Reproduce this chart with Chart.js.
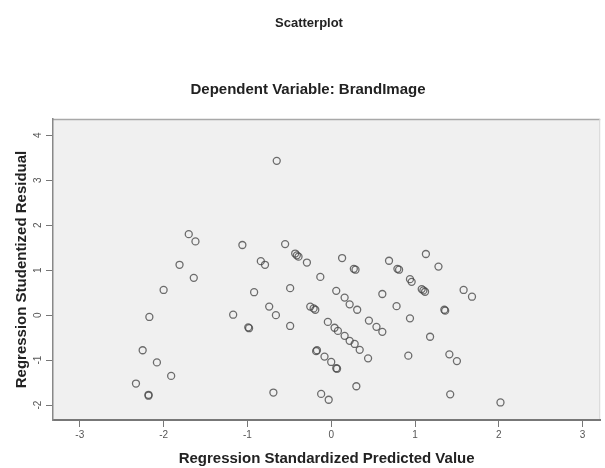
<!DOCTYPE html>
<html>
<head>
<meta charset="utf-8">
<script src="https://cdn.jsdelivr.net/npm/chart.js@4/dist/chart.umd.min.js"></script>
<style>
  html, body { margin: 0; padding: 0; background: #ffffff; }
  #wrap { width: 605px; height: 468px; position: relative; }
</style>
</head>
<body>
<div id="wrap"><canvas id="c" width="605" height="468"></canvas></div>
<script>
const chartTitle = "Scatterplot";
const chartSubtitle = "Dependent Variable: BrandImage";
const xAxisTitle = "Regression Standardized Predicted Value";
const yAxisTitle = "Regression Studentized Residual";

const xTicks = [-3, -2, -1, 0, 1, 2, 3];
const yTicks = [-2, -1, 0, 1, 2, 3, 4];

// Regression Standardized Predicted Value
const predicted = [
  -1.70, -1.62, -1.81, -1.64, -2.00, -2.17, -2.25, -2.08, -1.91, -2.33, -2.18, -2.18,
  -1.06, -0.84, -0.79, -0.92, -0.74, -0.66, -1.17, -0.99, -0.98, -0.69,
  -0.65,
  -0.55, -0.43, -0.41, -0.39, -0.29, -0.13, -0.49, -0.49,
  -0.25, -0.19, -0.21,
  0.13, 0.29, 0.27,
  0.06, 0.16, 0.22, 0.31,
  0.61, 0.78, 0.94,
  0.45, 0.54, 0.61,
  -0.04, 0.04, 0.08, 0.16, 0.22, 0.28, 0.34, 0.44,
  -0.17, -0.18, -0.08, 0.00, 0.06, 0.07,
  0.30, -0.12, -0.03,
  0.69, 0.81, 0.79, 0.94, 0.96, 1.08, 1.10, 1.12, 1.13, 1.28, 1.58, 1.68,
  1.35, 1.36, 1.18, 0.92, 1.41, 1.50, 1.42, 2.02
];
// Regression Studentized Residual
const residual = [
  1.80, 1.64, 1.12, 0.83, 0.56, -0.04, -0.78, -1.05, -1.35, -1.52, -1.77, -1.79,
  1.56, 1.20, 1.12, 0.51, 0.19, 0.00, 0.01, -0.27, -0.29, -1.72,
  3.43,
  1.58, 1.37, 1.33, 1.30, 1.17, 0.85, 0.60, -0.24,
  0.19, 0.12, 0.15,
  1.27, 1.01, 1.03,
  0.54, 0.39, 0.24, 0.12,
  0.47, 0.20, -0.07,
  -0.12, -0.26, -0.37,
  -0.15, -0.28, -0.35, -0.46, -0.57, -0.64, -0.77, -0.96,
  -0.78, -0.80, -0.92, -1.04, -1.18, -1.19,
  -1.58, -1.75, -1.88,
  1.21, 1.01, 1.03, 0.80, 0.74, 0.58, 0.55, 0.52, 1.36, 1.08, 0.56, 0.41,
  0.12, 0.10, -0.48, -0.90, -0.87, -1.02, -1.76, -1.94
];

const points = predicted.map((x, i) => ({ x: x, y: residual[i] }));

const FONT = "'Liberation Sans', Arial, sans-serif";

const framePlugin = {
  id: 'frame',
  beforeDraw(chart) {
    const { ctx, chartArea: a } = chart;
    ctx.save();
    ctx.fillStyle = '#f0f0f0';
    ctx.fillRect(a.left, a.top, a.right - a.left, a.bottom - a.top);
    ctx.strokeStyle = '#a8a8a8';
    ctx.lineWidth = 1.5;
    ctx.beginPath();
    ctx.moveTo(a.left, a.top + 0.5);
    ctx.lineTo(a.right, a.top + 0.5);
    ctx.stroke();
    ctx.strokeStyle = '#d8d8d8';
    ctx.lineWidth = 1;
    ctx.beginPath();
    ctx.moveTo(a.right - 0.5, a.top);
    ctx.lineTo(a.right - 0.5, a.bottom);
    ctx.stroke();
    ctx.restore();
  },
  afterDraw(chart) {
    const { ctx } = chart;
    ctx.save();
    ctx.fillStyle = '#222';
    ctx.textAlign = 'center';
    ctx.textBaseline = 'middle';
    ctx.font = "bold 13px " + FONT;
    ctx.fillText(chartTitle, 309, 23);
    ctx.font = "bold 15px " + FONT;
    ctx.fillText(chartSubtitle, 308, 90);
    ctx.restore();
  }
};

new Chart(document.getElementById('c'), {
  type: 'scatter',
  data: {
    datasets: [{
      data: points,
      pointStyle: 'circle',
      pointRadius: 3.5,
      pointHoverRadius: 3.5,
      borderWidth: 1.3,
      pointBorderColor: 'rgba(70,70,70,0.78)',
      pointBackgroundColor: 'rgba(0,0,0,0)'
    }]
  },
  options: {
    responsive: false,
    animation: false,
    devicePixelRatio: 1,
    layout: { padding: { top: 119, right: 1, left: 0, bottom: 0 } },
    plugins: {
      legend: { display: false },
      tooltip: { enabled: false },
      title: { display: false }
    },
    scales: {
      x: {
        type: 'linear',
        min: -3.32,
        max: 3.21,
        afterBuildTicks(s) { s.ticks = xTicks.map(v => ({ value: v })); },
        afterFit(s) { s.height = 48; s.paddingLeft = 0; s.paddingRight = 0; },
        ticks: {
          font: { size: 10, family: FONT },
          color: '#555',
          padding: 2,
          maxRotation: 0,
          callback: v => String(v)
        },
        grid: { drawOnChartArea: false, drawTicks: true, tickLength: 7, color: '#777', tickWidth: 1 },
        border: { display: true, color: '#777', width: 2 },
        title: {
          display: true,
          text: xAxisTitle,
          font: { size: 15, weight: 'bold', family: FONT },
          color: '#222',
          padding: { top: 0, bottom: 0 }
        }
      },
      y: {
        type: 'linear',
        min: -2.33,
        max: 4.36,
        afterBuildTicks(s) { s.ticks = yTicks.map(v => ({ value: v })); },
        afterFit(s) { s.width = 53; s.paddingTop = 0; s.paddingBottom = 0; },
        ticks: {
          font: { size: 10, family: FONT },
          color: '#555',
          padding: 3,
          minRotation: 90,
          maxRotation: 90,
          crossAlign: 'center',
          callback: v => String(v)
        },
        grid: { drawOnChartArea: false, drawTicks: true, tickLength: 7, color: '#777', tickWidth: 1 },
        border: { display: true, color: '#888', width: 1.5 },
        title: {
          display: true,
          text: yAxisTitle,
          font: { size: 15, weight: 'bold', family: FONT },
          color: '#222',
          padding: { top: 13, bottom: 0 }
        }
      }
    }
  },
  plugins: [framePlugin]
});
</script>
</body>
</html>
